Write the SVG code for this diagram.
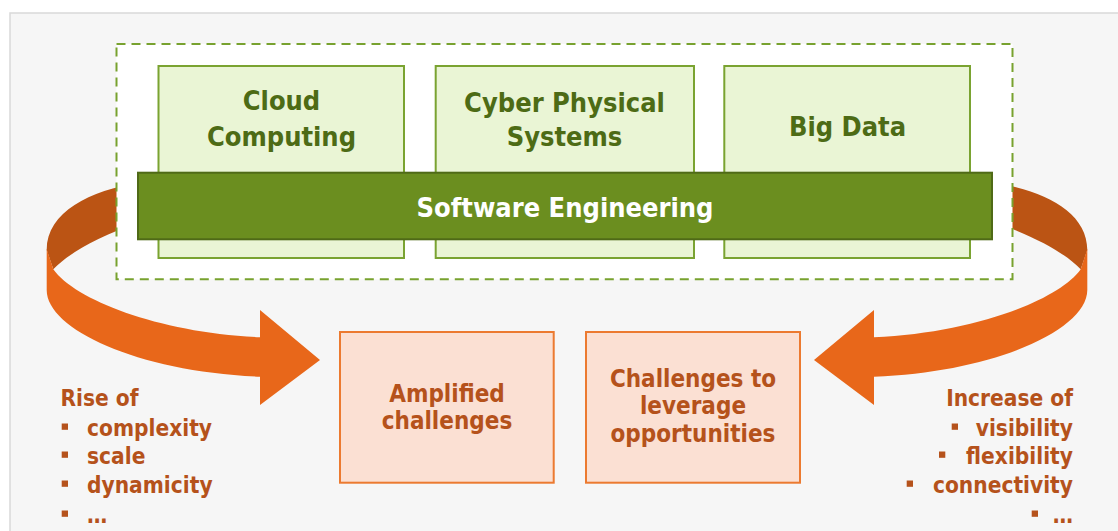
<svg xmlns="http://www.w3.org/2000/svg" width="1118" height="531" viewBox="0 0 1118 531">
<style>
  .t { font-family: "DejaVu Sans Condensed", "DejaVu Sans", sans-serif; font-stretch: condensed; font-weight: bold; }
  .top { fill: #eaf5d5; stroke: #7aa331; stroke-width: 2; }
  .toptxt { fill: #4d6b15; font-size: 27px; text-anchor: middle; }
  .bot { fill: #fbe0d3; stroke: #ec7a30; stroke-width: 2; }
  .bottxt { fill: #b5521b; font-size: 24px; text-anchor: middle; }
  .list { fill: #b5521b; font-size: 22.5px; }
  .bul { fill: #b5521b; }
  .dark { fill: #bb5414; }
  .light { fill: #e8671a; }
</style>
<defs>
  <g id="arrowShape">
    <path class="dark" d="M140,183 C90,190 46.7,212 46.7,250 L53.3,269.3 C68,254 95,238 140,222 Z"/>
    <path class="light" d="M46.7,249 L46.7,290 C46.7,330 140,372 260,376.7 L260,405 L320,360 L260,310 L260,337.3 C160,333 75,300 53.3,269.3 Z"/>
  </g>
</defs>
<rect x="0" y="0" width="1118" height="531" fill="#ffffff"/>
<rect x="10" y="13" width="1120" height="530" fill="#f6f6f6" stroke="#d9d9d9" stroke-width="1.5"/>

<g id="connectors">
  <use href="#arrowShape"/>
  <use href="#arrowShape" transform="translate(1134,0) scale(-1,1)"/>
</g>

<g id="container">
  <rect x="116.5" y="44" width="896" height="235.3" fill="#ffffff" stroke="#78a22f" stroke-width="2" stroke-dasharray="9,6"/>
</g>

<g id="cloud">
  <rect class="top" x="158.5" y="66" width="245.5" height="192"/>
  <text class="t toptxt" x="281.5" y="110">Cloud</text>
  <text class="t toptxt" x="281.5" y="146">Computing</text>
</g>
<g id="cps">
  <rect class="top" x="435.7" y="66" width="258.3" height="192"/>
  <text class="t toptxt" x="564.5" y="111.5">Cyber Physical</text>
  <text class="t toptxt" x="564.5" y="146">Systems</text>
</g>
<g id="bigdata">
  <rect class="top" x="724.3" y="66" width="245.7" height="192"/>
  <text class="t toptxt" x="847.5" y="136">Big Data</text>
</g>
<g id="se">
  <rect x="138" y="172.7" width="854" height="66.6" fill="#6b8e1f" stroke="#4f6a17" stroke-width="2"/>
  <text class="t" x="565" y="216.5" font-size="27" fill="#ffffff" text-anchor="middle">Software Engineering</text>
</g>

<g id="amplified">
  <rect class="bot" x="340" y="332" width="213.7" height="150.7"/>
  <text class="t bottxt" x="447" y="401.7">Amplified</text>
  <text class="t bottxt" x="447" y="429">challenges</text>
</g>
<g id="leverage">
  <rect class="bot" x="586" y="332" width="214" height="150.7"/>
  <text class="t bottxt" x="693" y="386.7">Challenges to</text>
  <text class="t bottxt" x="693" y="414.3">leverage</text>
  <text class="t bottxt" x="693" y="441.7">opportunities</text>
</g>

<g id="rise">
  <text class="t list" x="60.5" y="406">Rise of</text>
  <rect class="bul" x="61.7" y="423.5" width="6.3" height="6.3"/>
  <text class="t list" x="87" y="436">complexity</text>
  <rect class="bul" x="61.7" y="451.5" width="6.3" height="6.3"/>
  <text class="t list" x="87" y="464">scale</text>
  <rect class="bul" x="61.7" y="480.5" width="6.3" height="6.3"/>
  <text class="t list" x="87" y="493">dynamicity</text>
  <rect class="bul" x="61.7" y="510.5" width="6.3" height="6.3"/>
  <text class="t list" x="87" y="523">…</text>
</g>

<g id="increase">
  <text class="t list" x="1073" y="405.7" text-anchor="end">Increase of</text>
  <rect class="bul" x="951.7" y="423.5" width="6.3" height="6.3"/>
  <text class="t list" x="1073" y="436" text-anchor="end">visibility</text>
  <rect class="bul" x="939" y="451.5" width="6.3" height="6.3"/>
  <text class="t list" x="1073" y="464" text-anchor="end">flexibility</text>
  <rect class="bul" x="906.7" y="480.5" width="6.3" height="6.3"/>
  <text class="t list" x="1073" y="493" text-anchor="end">connectivity</text>
  <rect class="bul" x="1031.7" y="510.5" width="6.3" height="6.3"/>
  <text class="t list" x="1073" y="523" text-anchor="end">…</text>
</g>
</svg>
